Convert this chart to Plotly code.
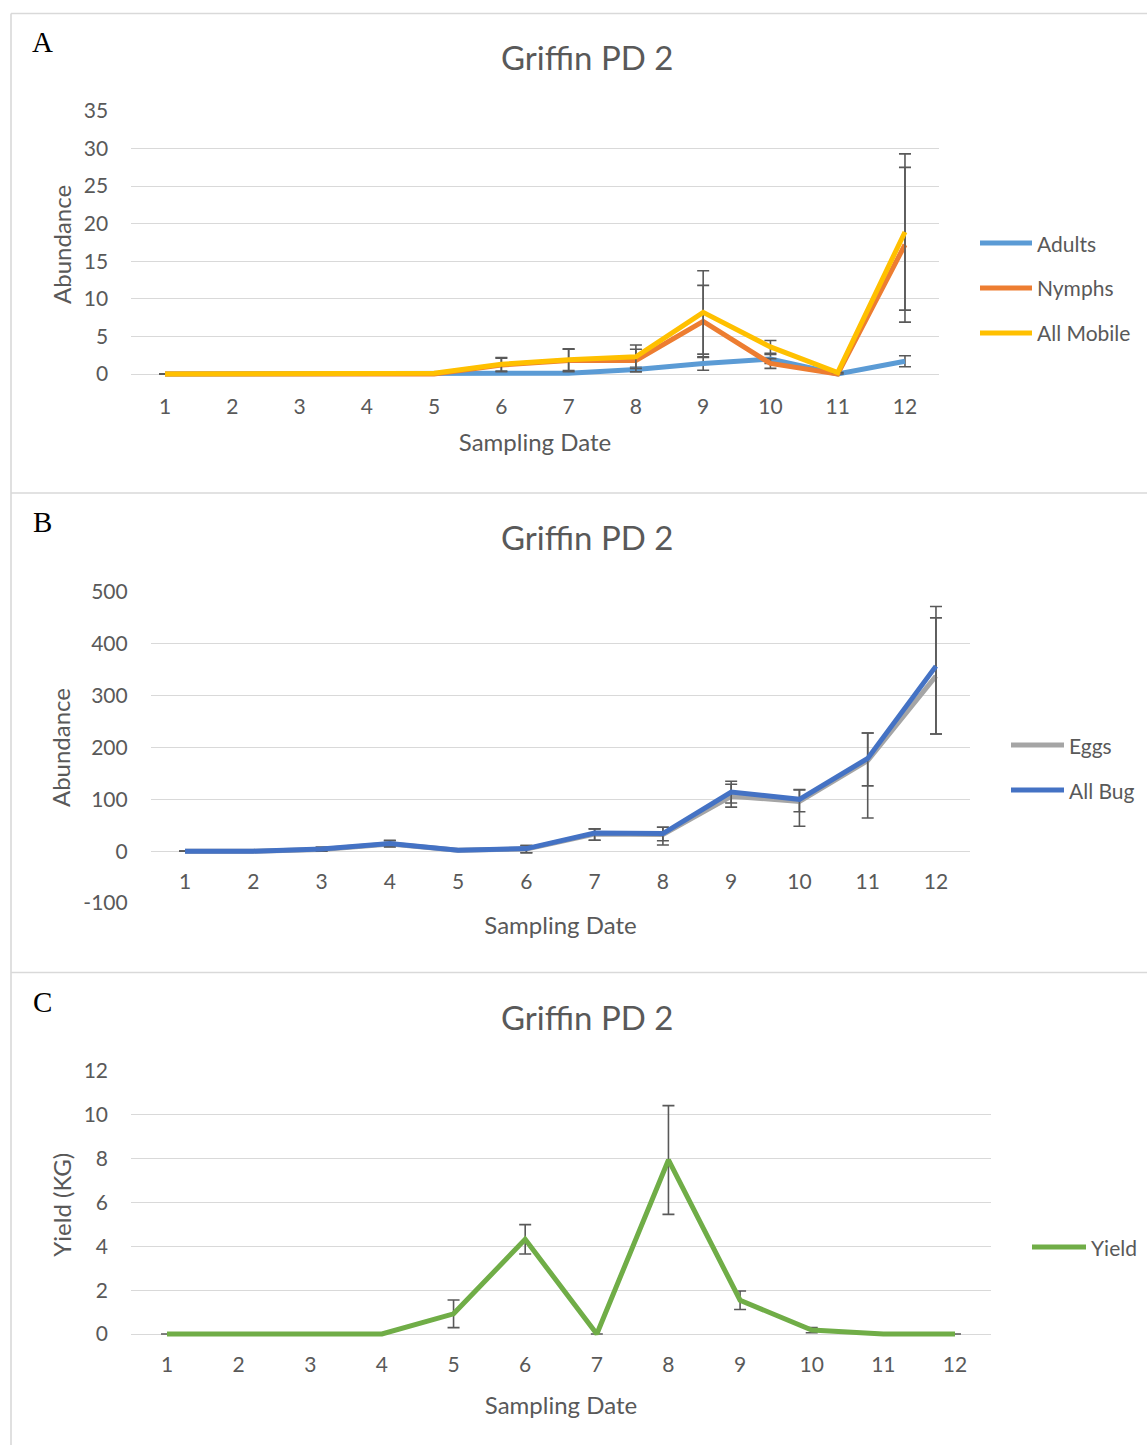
import plotly.graph_objects as go

# ---- data -------------------------------------------------------------
dates = list(range(1, 13))
date_labels = [str(d) for d in dates]

# Panel A: mobile stages
adults = [0, 0, 0, 0, 0, 0, 0.1, 0.6, 1.4, 2.0, 0, 1.7]
adults_err = [0, 0, 0, 0, 0, 0, 0.1, 0.3, 0.9, 0.6, 0, 0.73]
nymphs = [0, 0, 0, 0, 0, 1.2, 1.8, 1.8, 7.0, 1.4, 0, 17.2]
nymphs_err = [0, 0, 0, 0, 0, 0.9, 1.5, 1.5, 4.8, 0.65, 0, 10.3]
all_mobile = [0, 0, 0, 0, 0.1, 1.3, 1.9, 2.3, 8.2, 3.6, 0.2, 18.9]
all_mobile_err = [0, 0, 0, 0, 0, 0.9, 1.45, 1.55, 5.55, 0.85, 0, 10.4]

# Panel B: eggs and all bugs
eggs = [0, 0, 3, 14, 2, 4, 33, 32, 106, 96, 175, 338]
eggs_err_plus = [0, 0, 3, 6, 1, 7, 10, 14, 23, 22, 53, 112]
eggs_err_minus = [0, 0, 3, 6, 1, 7, 12, 20, 21, 20, 49, 112]
all_bug = [0, 0, 4, 15, 2, 5, 35, 34, 114, 100, 179, 357]
all_bug_err_plus = [0, 0, 4, 6, 1, 6, 8, 12, 21, 19, 49, 115]
all_bug_err_minus = [0, 0, 4, 6, 1, 8, 14, 14, 21, 52, 115, 131]
b_ticks = [-100, 0, 100, 200, 300, 400, 500]
b_tick_labels = ["-100", "0", "100", "200", "300", "400", "500"]

# Panel C: yield
yield_kg = [0, 0, 0, 0, 0.92, 4.32, 0, 7.94, 1.54, 0.18, 0, 0]
yield_err = [0, 0, 0, 0, 0.63, 0.67, 0, 2.48, 0.42, 0.12, 0, 0]

# ---- layout helpers ---------------------------------------------------
W, H = 1147, 1445
FONT = "Lato"
TXT = "#595959"
GRID = "#D9D9D9"
ERR = "#595959"


def px(x):
    return x / W


def py(y):
    return 1 - y / H


fig = go.Figure()


def add_series(name, y, color, xa, ya, err_plus, err_minus=None):
    err = dict(type="data", array=err_plus, color=ERR, thickness=1.6, width=6)
    if err_minus is not None:
        err.update(symmetric=False, arrayminus=err_minus)
    fig.add_trace(go.Scatter(
        x=dates, y=y, name=name, mode="lines",
        line=dict(color=color, width=5, shape="linear"),
        error_y=err, xaxis=xa, yaxis=ya, showlegend=False,
    ))


add_series("Adults", adults, "#5B9BD5", "x", "y", adults_err)
add_series("Nymphs", nymphs, "#ED7D31", "x", "y", nymphs_err)
add_series("All Mobile", all_mobile, "#FFC000", "x", "y", all_mobile_err)
add_series("Eggs", eggs, "#A5A5A5", "x2", "y2", eggs_err_plus, eggs_err_minus)
add_series("All Bug", all_bug, "#4472C4", "x2", "y2", all_bug_err_plus, all_bug_err_minus)
add_series("Yield", yield_kg, "#70AD47", "x3", "y3", yield_err)

tickfont = dict(family=FONT, size=21, color=TXT)
titlefont = dict(family=FONT, size=24, color=TXT)


def xaxis(left, right, anchor, title, ticklen, standoff, position=None):
    d = dict(
        domain=[px(left), px(right)], range=[0.5, 12.5],
        tickmode="array", tickvals=dates, ticktext=date_labels,
        showgrid=False, zeroline=False, showline=False,
        ticks="outside", ticklen=ticklen, tickcolor="rgba(0,0,0,0)",
        tickfont=tickfont,
        title=dict(text=title, font=titlefont, standoff=standoff),
        anchor=anchor, fixedrange=True, automargin=False,
    )
    if position is not None:
        d.update(anchor="free", position=position)
    return d


def yaxis(top, bottom, rng, dtick, anchor, title, standoff, tickvals=None, ticktext=None):
    d = dict(
        domain=[py(bottom), py(top)], range=rng, dtick=dtick, tick0=0,
        showgrid=True, gridcolor=GRID, gridwidth=1.4,
        zeroline=True, zerolinecolor=GRID, zerolinewidth=1.4,
        showline=False, ticks="outside", ticklen=18,
        tickcolor="rgba(0,0,0,0)", tickfont=tickfont,
        title=dict(text=title, font=titlefont, standoff=standoff),
        anchor=anchor, fixedrange=True, automargin=False,
    )
    if tickvals is not None:
        d.update(tickmode="array", tickvals=tickvals, ticktext=ticktext)
    return d


# panel A: 0 at y=374, 35 at y=111
a_scale = (374 - 111) / 35
fig.update_layout(
    xaxis=xaxis(131.4, 938.6, "y", "Sampling Date", 10, 17),
    yaxis=yaxis(111, 374 + 0.5 * a_scale, [-0.5, 35], 5, "x", "Abundance", 5),
    # panel B: 500 at y=592, -100 at y=903
    xaxis2=xaxis(150.9, 970.1, "y2", "Sampling Date", 12, 24, position=py(851)),
    yaxis2=yaxis(592, 903, [-100, 500], 100, "x2", "Abundance", 5,
                 tickvals=b_ticks, ticktext=b_tick_labels),
    # panel C: 12 at y=1071, 0 at y=1334
    xaxis3=xaxis(131.2, 990.8, "y3", "Sampling Date", 7, 22),
    yaxis3=yaxis(1071, 1334 + 0.2 * (1334 - 1071) / 12, [-0.2, 12], 2, "x3", "Yield (KG)", 5),
)

shapes = []
annotations = []

# panel frame lines
for x0, y0, x1, y1 in [(11, 13.5, W, 13.5), (11, 13.5, 11, H),
                       (11, 493, W, 493), (11, 972.5, W, 972.5)]:
    shapes.append(dict(type="line", xref="paper", yref="paper",
                       x0=px(x0), y0=py(y0), x1=px(x1), y1=py(y1),
                       line=dict(color=GRID, width=1.6)))

# panel letters and titles
for letter, ly, ty in [("A", 42, 57), ("B", 522, 537), ("C", 1002, 1017)]:
    annotations.append(dict(text=letter, x=px(42), y=py(ly), xref="paper", yref="paper",
                            showarrow=False, xanchor="center", yanchor="middle",
                            font=dict(family="Liberation Serif", size=29, color="#000000")))
    annotations.append(dict(text="Griffin PD 2", x=px(587), y=py(ty), xref="paper", yref="paper",
                            showarrow=False, xanchor="center", yanchor="middle",
                            font=dict(family=FONT, size=33, color=TXT)))

# legends
legend_items = [
    ("Adults", "#5B9BD5", 980, 1032, 243),
    ("Nymphs", "#ED7D31", 980, 1032, 288),
    ("All Mobile", "#FFC000", 980, 1032, 333),
    ("Eggs", "#A5A5A5", 1011, 1064, 745),
    ("All Bug", "#4472C4", 1011, 1064, 790),
    ("Yield", "#70AD47", 1032, 1086, 1247),
]
for name, color, x0, x1, y in legend_items:
    shapes.append(dict(type="line", xref="paper", yref="paper",
                       x0=px(x0), y0=py(y), x1=px(x1), y1=py(y),
                       line=dict(color=color, width=5)))
    annotations.append(dict(text=name, x=px(x1 + 3), y=py(y), xref="paper", yref="paper",
                            showarrow=False, xanchor="left", yanchor="middle",
                            font=dict(family=FONT, size=21, color=TXT)))

fig.update_layout(
    width=W, height=H,
    margin=dict(l=0, r=0, t=0, b=0),
    paper_bgcolor="white", plot_bgcolor="white",
    showlegend=False,
    shapes=shapes, annotations=annotations,
)

fig.write_html("out.html", config={"displayModeBar": False})
